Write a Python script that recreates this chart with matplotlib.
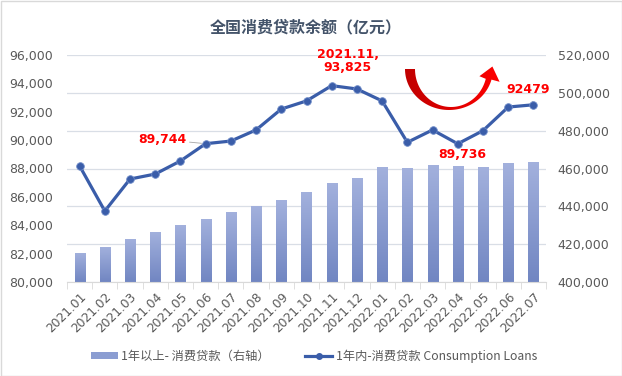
import numpy as np
import matplotlib

matplotlib.use("Agg")
import matplotlib.pyplot as plt
from matplotlib.patches import Polygon, Rectangle
from matplotlib.lines import Line2D
from matplotlib.ticker import FuncFormatter, MultipleLocator

plt.rcParams["font.family"] = ["DejaVu Sans", "Noto Sans CJK SC"]

months = ["2021.01", "2021.02", "2021.03", "2021.04", "2021.05", "2021.06",
          "2021.07", "2021.08", "2021.09", "2021.10", "2021.11", "2021.12",
          "2022.01", "2022.02", "2022.03", "2022.04", "2022.05", "2022.06",
          "2022.07"]
# 1年以上 (right axis, bars)
long_term = [415600, 418600, 422800, 426500, 430400, 433400, 437100, 440400,
             443400, 447600, 452400, 455100, 460900, 460400, 461800, 461300,
             460900, 462900, 463400]
# 1年内 (left axis, line)
short_term = [88180, 85010, 87260, 87610, 88530, 89744, 89930, 90710, 92180,
              92750, 93825, 93590, 92750, 89840, 90710, 89736, 90660, 92320,
              92479]

LINE_C = "#3a5da9"
TXT_C = "#595959"
GRID_C = "#d9dee6"
RED = "#ff0000"

fig = plt.figure(figsize=(6.22, 3.76), dpi=100)
ax = fig.add_axes([67 / 622, 1 - 282.3 / 376, 479 / 622, 227.6 / 376])
ax2 = ax.twinx()
ax.set_zorder(2)
ax.patch.set_visible(False)

x = np.arange(len(months))

# bars with vertical gradient
bars = ax2.bar(x, long_term, width=0.4, color="#8b9dd2", zorder=2)
grad = np.linspace(0, 1, 100).reshape(-1, 1)
cmap = matplotlib.colors.LinearSegmentedColormap.from_list("g", ["#7186c2", "#a3b1dd"])
for b in bars:
    x0, w, h = b.get_x(), b.get_width(), b.get_height()
    im = ax2.imshow(grad, cmap=cmap, origin="lower", aspect="auto",
                    extent=[x0, x0 + w, 400000, h], zorder=3)
    im.set_clip_path(b)
ax2.set_ylim(400000, 520000)
ax2.yaxis.set_major_locator(MultipleLocator(20000))
ax2.yaxis.set_major_formatter(FuncFormatter(lambda v, p: f"{v:,.0f}"))

ax.plot(x, short_term, color=LINE_C, lw=2.3, marker="o", ms=5.5,
        mfc=LINE_C, mec="#6f8cc8", mew=0.6, zorder=5)
ax.set_ylim(80000, 96000)
ax.set_xlim(-0.5, len(months) - 0.5)
ax2.set_xlim(-0.5, len(months) - 0.5)
ax.yaxis.set_major_locator(MultipleLocator(2000))
ax.yaxis.set_major_formatter(FuncFormatter(lambda v, p: f"{v:,.0f}"))

# grid on the bar axis so it sits below everything
ax2.grid(axis="y", color=GRID_C, lw=0.9, zorder=0)
ax2.set_axisbelow(True)

for a in (ax, ax2):
    for s in ("top", "left", "right"):
        a.spines[s].set_visible(False)
    a.spines["bottom"].set_color("#d9d9d9")
    a.tick_params(axis="y", length=0, labelsize=9, labelcolor=TXT_C)
ax.tick_params(axis="y", pad=10)
ax2.tick_params(axis="y", pad=8.5)
ax2.spines["bottom"].set_visible(False)
ax.set_xticks(x)
ax.set_xticklabels(months, rotation=45, ha="right", rotation_mode="anchor",
                   fontsize=8.8, color=TXT_C)
ax.tick_params(axis="x", which="major", length=0, pad=6)
ax.set_xticks(np.arange(-0.5, len(months)), minor=True)
ax.tick_params(axis="x", which="minor", length=5, color="#d9d9d9")

# annotations
bold = dict(color=RED, fontsize=9, fontweight="bold", ha="center", va="center")
ax.annotate(f"{short_term[5]:,}", xy=(5, short_term[5]), xytext=(-31, 3),
            textcoords="offset points",
            arrowprops=dict(arrowstyle="-", color="#a6a6a6", lw=0.6,
                            shrinkA=0, shrinkB=3), **bold)
ax.annotate(f"{months[10]},\n{short_term[10]:,}", xy=(10, short_term[10]),
            xytext=(11.5, 18), textcoords="offset points", linespacing=1.0, **bold)
ax.annotate(f"{short_term[15]:,}", xy=(15, short_term[15]), xytext=(3, -8),
            textcoords="offset points", **bold)
ax.annotate(f"{short_term[18]}", xy=(18, short_term[18]), xytext=(-4, 11),
            textcoords="offset points",
            arrowprops=dict(arrowstyle="-", color="#a6a6a6", lw=0.6,
                            shrinkA=2, shrinkB=3), **bold)

# overlay in pixel coordinates: title, curved arrow, border
ov = fig.add_axes([0, 0, 1, 1], zorder=10)
ov.axis("off")
ov.patch.set_visible(False)

ov.text(306, 27, "全国消费贷款余额（亿元）", ha="center", va="center",
        fontsize=11.5, fontweight="bold", color="#44546a",
        family=["Noto Sans CJK SC", "DejaVu Sans"])

th = np.linspace(np.pi, np.deg2rad(15), 60)
outer = np.c_[449 + 44 * np.cos(th), 69 + 41 * np.sin(th)]
inner = np.c_[451 + 36 * np.cos(th), 69 + 38 * np.sin(th)][::-1]
head = np.array([(499.6, 81.8), (492.4, 66.5), (479.4, 76.2)])
poly_pts = np.vstack([outer, head, inner])
arrow = Polygon(poly_pts, closed=True, facecolor="none", edgecolor="none")
ov.add_patch(arrow)
hgrad = np.linspace(0, 1, 100).reshape(1, -1)
rcmap = matplotlib.colors.LinearSegmentedColormap.from_list("r", ["#c00000", "#ff0000"])
im = ov.imshow(hgrad, cmap=rcmap, aspect="auto", extent=[404, 501, 111, 65],
               zorder=11)
im.set_clip_path(arrow)

ov.add_patch(Rectangle((0.5, 0.5), 621, 375, fill=False, edgecolor="#d9d9d9", lw=1))
ov.set_xlim(0, 622)
ov.set_ylim(376, 0)

# legend
h_bar = Rectangle((0, 0), 1, 1, facecolor="#8b9dd2")
h_line = Line2D([], [], color=LINE_C, lw=2.3, marker="o", ms=4)
fig.legend([h_bar, h_line],
           ["1年以上- 消费贷款（右轴）", "1年内-消费贷款 Consumption Loans"],
           loc="center", bbox_to_anchor=(314 / 622, 1 - 356 / 376), ncol=2,
           frameon=False, labelcolor=TXT_C, handlelength=2.2,
           handleheight=0.6, columnspacing=2.9, handletextpad=0.3,
           prop={"family": ["Noto Sans CJK SC", "DejaVu Sans"], "size": 8.8})

fig.savefig("out.png", dpi=100)
